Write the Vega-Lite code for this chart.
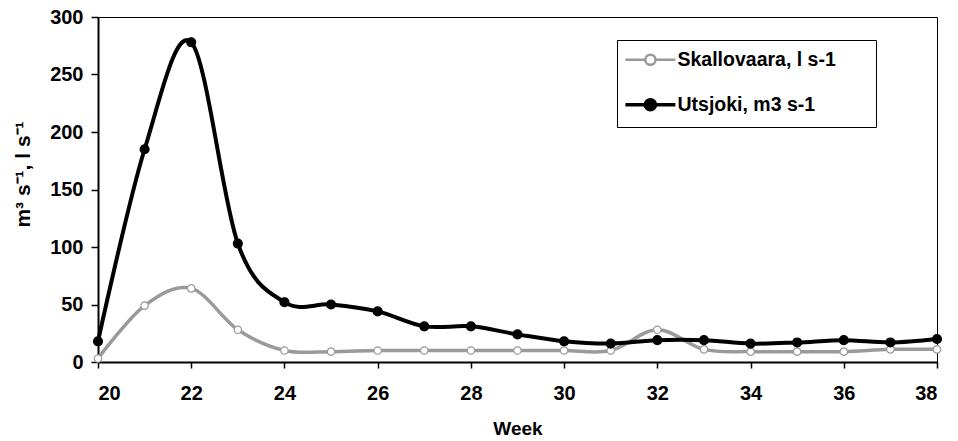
{
  "$schema": "https://vega.github.io/schema/vega-lite/v6.json",
  "autosize": {"type": "none"},
  "padding": {"left": 98, "top": 17, "right": 21, "bottom": 79},
  "width": 839,
  "height": 345,
  "background": "white",
  "config": {
    "view": {"stroke": "black", "strokeWidth": 1},
    "font": "Liberation Sans"
  },
  "data": {
    "values": [
      {"week": 20, "series": "Skallovaara, l s-1", "value": 3},
      {"week": 21, "series": "Skallovaara, l s-1", "value": 49},
      {"week": 22, "series": "Skallovaara, l s-1", "value": 64},
      {"week": 23, "series": "Skallovaara, l s-1", "value": 28},
      {"week": 24, "series": "Skallovaara, l s-1", "value": 10},
      {"week": 25, "series": "Skallovaara, l s-1", "value": 9},
      {"week": 26, "series": "Skallovaara, l s-1", "value": 10},
      {"week": 27, "series": "Skallovaara, l s-1", "value": 10},
      {"week": 28, "series": "Skallovaara, l s-1", "value": 10},
      {"week": 29, "series": "Skallovaara, l s-1", "value": 10},
      {"week": 30, "series": "Skallovaara, l s-1", "value": 10},
      {"week": 31, "series": "Skallovaara, l s-1", "value": 10},
      {"week": 32, "series": "Skallovaara, l s-1", "value": 28},
      {"week": 33, "series": "Skallovaara, l s-1", "value": 11},
      {"week": 34, "series": "Skallovaara, l s-1", "value": 9},
      {"week": 35, "series": "Skallovaara, l s-1", "value": 9},
      {"week": 36, "series": "Skallovaara, l s-1", "value": 9},
      {"week": 37, "series": "Skallovaara, l s-1", "value": 11},
      {"week": 38, "series": "Skallovaara, l s-1", "value": 11},
      {"week": 20, "series": "Utsjoki, m3 s-1", "value": 18},
      {"week": 21, "series": "Utsjoki, m3 s-1", "value": 185},
      {"week": 22, "series": "Utsjoki, m3 s-1", "value": 278},
      {"week": 23, "series": "Utsjoki, m3 s-1", "value": 103},
      {"week": 24, "series": "Utsjoki, m3 s-1", "value": 52},
      {"week": 25, "series": "Utsjoki, m3 s-1", "value": 50},
      {"week": 26, "series": "Utsjoki, m3 s-1", "value": 44},
      {"week": 27, "series": "Utsjoki, m3 s-1", "value": 31},
      {"week": 28, "series": "Utsjoki, m3 s-1", "value": 31},
      {"week": 29, "series": "Utsjoki, m3 s-1", "value": 24},
      {"week": 30, "series": "Utsjoki, m3 s-1", "value": 18},
      {"week": 31, "series": "Utsjoki, m3 s-1", "value": 16},
      {"week": 32, "series": "Utsjoki, m3 s-1", "value": 19},
      {"week": 33, "series": "Utsjoki, m3 s-1", "value": 19},
      {"week": 34, "series": "Utsjoki, m3 s-1", "value": 16},
      {"week": 35, "series": "Utsjoki, m3 s-1", "value": 17},
      {"week": 36, "series": "Utsjoki, m3 s-1", "value": 19},
      {"week": 37, "series": "Utsjoki, m3 s-1", "value": 17},
      {"week": 38, "series": "Utsjoki, m3 s-1", "value": 20}
    ]
  },
  "encoding": {
    "x": {
      "field": "week", "type": "quantitative",
      "scale": {"domain": [20, 38], "nice": false, "zero": false},
      "axis": {
        "values": [20, 22, 24, 26, 28, 30, 32, 34, 36, 38],
        "grid": false, "domainColor": "black", "domainWidth": 2,
        "tickColor": "black", "tickWidth": 1.5, "tickSize": 6,
        "labelFont": "Liberation Sans", "labelFontWeight": "bold", "labelFontSize": 20,
        "labelColor": "black", "labelPadding": 15,
        "title": "Week", "titleFont": "Liberation Sans", "titleFontWeight": 900,
        "titleFontSize": 19, "titleColor": "black", "titlePadding": 16
      }
    },
    "y": {
      "field": "value", "type": "quantitative",
      "scale": {"domain": [0, 300], "nice": false},
      "axis": {
        "values": [0, 50, 100, 150, 200, 250, 300],
        "grid": false, "domainColor": "black", "domainWidth": 2,
        "tickColor": "black", "tickWidth": 1.5, "tickSize": 7,
        "labelFont": "Liberation Sans", "labelFontWeight": "bold", "labelFontSize": 20,
        "labelColor": "black", "labelPadding": 8,
        "title": "m³ s⁻¹, l s⁻¹", "titleFont": "Liberation Sans", "titleFontWeight": "bold",
        "titleFontSize": 21, "titleColor": "black", "titlePadding": 16, "titleY": 157
      }
    }
  },
  "layer": [
    {
      "mark": {"type": "line", "interpolate": "cardinal"},
      "encoding": {
        "stroke": {
          "field": "series", "type": "nominal",
          "scale": {"domain": ["Skallovaara, l s-1", "Utsjoki, m3 s-1"], "range": ["#9a9a9a", "black"]},
          "legend": {
            "orient": "none", "legendX": 519, "legendY": 23,
            "title": null,
            "strokeColor": "black", "padding": 10, "cornerRadius": 0,
            "fillColor": "white",
            "symbolType": "M-1,0H0.75M1.65,0H3.4M0.75,0A0.45,0.45 0 1,1 1.65,0A0.45,0.45 0 1,1 0.75,0Z",
            "symbolSize": 517, "symbolStrokeWidth": 3,
            "labelFont": "Liberation Sans", "labelFontSize": 19.5, "labelFontWeight": "bold",
            "labelColor": "black", "rowPadding": 22, "labelOffset": 31, "labelLimit": 400,
            "labelExpr": "datum.label + '\u2800\u2800'",
            "encode": {
              "symbols": {
                "update": {
                  "fill": {"signal": "datum.value === 'Utsjoki, m3 s-1' ? 'black' : 'white'"},
                  "strokeWidth": {"signal": "datum.value === 'Utsjoki, m3 s-1' ? 3.5 : 2.5"},
                  "size": {"value": 517}
                }
              }
            }
          }
        },
        "strokeWidth": {
          "condition": {"test": "datum.series === 'Utsjoki, m3 s-1'", "value": 4},
          "value": 3.5
        }
      }
    },
    {
      "mark": {"type": "point", "filled": true, "opacity": 1, "strokeWidth": 1.2},
      "encoding": {
        "fill": {
          "field": "series", "type": "nominal",
          "scale": {"domain": ["Skallovaara, l s-1", "Utsjoki, m3 s-1"], "range": ["white", "black"]},
          "legend": null
        },
        "stroke": {
          "field": "series", "type": "nominal",
          "legend": null
        },
        "size": {
          "condition": {"test": "datum.series === 'Utsjoki, m3 s-1'", "value": 80},
          "value": 55
        }
      }
    }
  ]
}
